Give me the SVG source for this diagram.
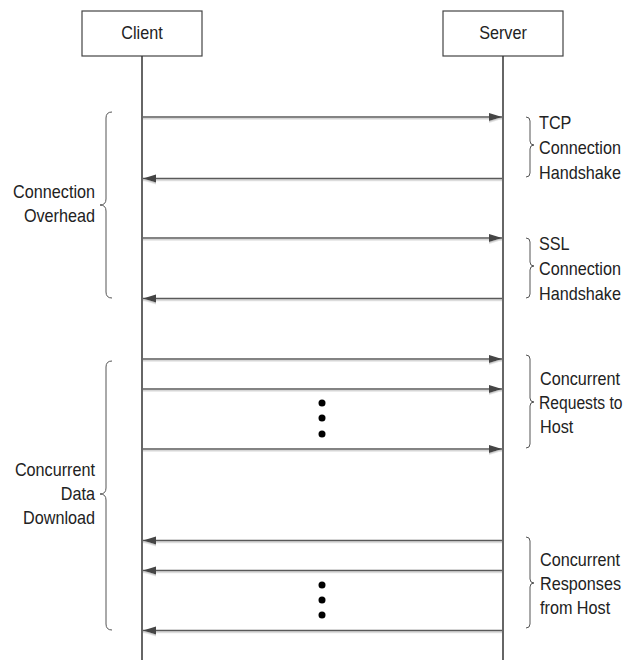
<svg xmlns="http://www.w3.org/2000/svg" width="626" height="660" viewBox="0 0 626 660">
<style>
  text { font-family: "Liberation Sans", Arial, sans-serif; font-size: 18px; fill: #222; }
  .box { fill: #fff; stroke: #444; stroke-width: 1.2; }
  .life { stroke: #333; stroke-width: 1.5; fill: none; }
  .msg { stroke: #5a5a5a; stroke-width: 1.3; fill: none; }
  .brace { stroke: #555; stroke-width: 1; fill: none; }
  .dot { fill: #000; }
  .r { text-anchor: end; }
  .c { text-anchor: middle; }
</style>
<defs>
  <marker id="ah" markerUnits="userSpaceOnUse" markerWidth="14" markerHeight="10" refX="13" refY="4.5" orient="auto">
    <path d="M0,0.5 L13,4.5 L0,8.5 z" fill="#444"/>
  </marker>
  <filter id="sh" x="-5%" y="-50%" width="110%" height="300%">
    <feDropShadow dx="0" dy="1.5" stdDeviation="0.4" flood-color="#c8c8c8" flood-opacity="1"/>
  </filter>
</defs>

<g id="client">
  <rect class="box" x="82" y="11" width="120" height="45"/>
  <text class="c" transform="translate(142,39) scale(0.9,1)">Client</text>
  <line class="life" x1="142" y1="56" x2="142" y2="660"/>
</g>
<g id="server">
  <rect class="box" x="443" y="11" width="120" height="45"/>
  <text class="c" transform="translate(503,39) scale(0.9,1)">Server</text>
  <line class="life" x1="503" y1="56" x2="503" y2="660"/>
</g>

<g id="connectors" filter="url(#sh)">
  <line class="msg" x1="143" y1="117" x2="502" y2="117" marker-end="url(#ah)"/>
  <line class="msg" x1="502" y1="178.5" x2="143" y2="178.5" marker-end="url(#ah)"/>
  <line class="msg" x1="143" y1="238" x2="502" y2="238" marker-end="url(#ah)"/>
  <line class="msg" x1="502" y1="298.5" x2="143" y2="298.5" marker-end="url(#ah)"/>
  <line class="msg" x1="143" y1="359" x2="502" y2="359" marker-end="url(#ah)"/>
  <line class="msg" x1="143" y1="389" x2="502" y2="389" marker-end="url(#ah)"/>
  <line class="msg" x1="143" y1="449" x2="502" y2="449" marker-end="url(#ah)"/>
  <line class="msg" x1="502" y1="540.5" x2="143" y2="540.5" marker-end="url(#ah)"/>
  <line class="msg" x1="502" y1="570.5" x2="143" y2="570.5" marker-end="url(#ah)"/>
  <line class="msg" x1="502" y1="630.5" x2="143" y2="630.5" marker-end="url(#ah)"/>
</g>

<g id="dots-requests">
  <circle class="dot" cx="322" cy="403" r="3.5"/>
  <circle class="dot" cx="322" cy="418" r="3.5"/>
  <circle class="dot" cx="322" cy="434" r="3.5"/>
</g>
<g id="dots-responses">
  <circle class="dot" cx="322" cy="585" r="3.5"/>
  <circle class="dot" cx="322" cy="600" r="3.5"/>
  <circle class="dot" cx="322" cy="615" r="3.5"/>
</g>

<g id="tcp-handshake">
  <path class="brace" d="M526,117 Q530,117 530,121 L530,141 Q530,145 534,145 Q530,145 530,149 L530,173 Q530,177 526,177"/>
  <text transform="translate(539,129) scale(0.9,1)">TCP</text>
  <text transform="translate(539,154) scale(0.9,1)">Connection</text>
  <text transform="translate(539,178.5) scale(0.9,1)">Handshake</text>
</g>
<g id="ssl-handshake">
  <path class="brace" d="M526,238 Q530,238 530,242 L530,262 Q530,266 534,266 Q530,266 530,270 L530,294 Q530,298 526,298"/>
  <text transform="translate(539,250) scale(0.9,1)">SSL</text>
  <text transform="translate(539,275) scale(0.9,1)">Connection</text>
  <text transform="translate(539,299.5) scale(0.9,1)">Handshake</text>
</g>
<g id="requests">
  <path class="brace" d="M526,355 Q530,355 530,359 L530,398 Q530,402 534,402 Q530,402 530,406 L530,444 Q530,448 526,448"/>
  <text transform="translate(540,385) scale(0.9,1)">Concurrent</text>
  <text transform="translate(539,409) scale(0.87,1)">Requests to</text>
  <text transform="translate(540,433) scale(0.9,1)">Host</text>
</g>
<g id="responses">
  <path class="brace" d="M526,537 Q530,537 530,541 L530,579 Q530,583 534,583 Q530,583 530,587 L530,624 Q530,628 526,628"/>
  <text transform="translate(540,566) scale(0.9,1)">Concurrent</text>
  <text transform="translate(540,590) scale(0.9,1)">Responses</text>
  <text transform="translate(540,614) scale(0.9,1)">from Host</text>
</g>
<g id="connection-overhead">
  <path class="brace" d="M112,112 Q106,112 106,118 L106,199 Q106,205 100,205 Q106,205 106,211 L106,292 Q106,298 112,298"/>
  <text class="r" transform="translate(95,198) scale(0.9,1)">Connection</text>
  <text class="r" transform="translate(95,222) scale(0.9,1)">Overhead</text>
</g>
<g id="concurrent-download">
  <path class="brace" d="M112,361 Q106,361 106,367 L106,488 Q106,494 100,494 Q106,494 106,500 L106,624 Q106,630 112,630"/>
  <text class="r" transform="translate(95,476) scale(0.9,1)">Concurrent</text>
  <text class="r" transform="translate(95,500) scale(0.9,1)">Data</text>
  <text class="r" transform="translate(95,524) scale(0.9,1)">Download</text>
</g>
</svg>
